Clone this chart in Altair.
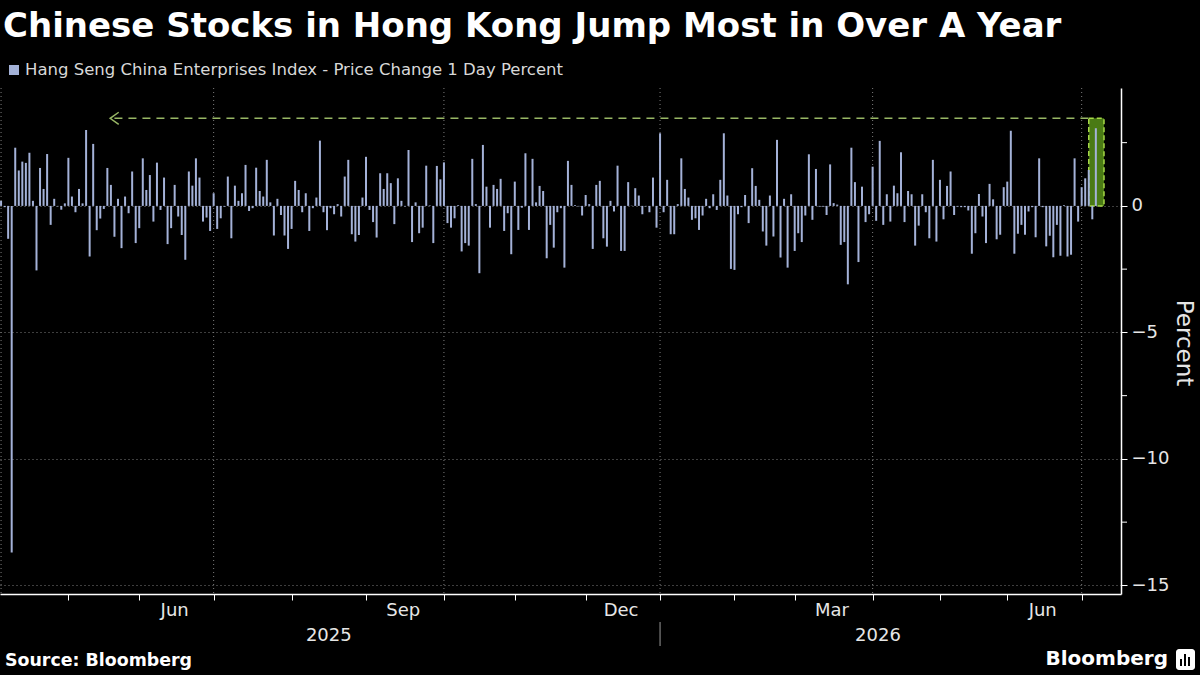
import altair as alt
import pandas as pd

TITLE = "Chinese Stocks in Hong Kong Jump Most in Over A Year"
SERIES = "Hang Seng China Enterprises Index - Price Change 1 Day Percent"
SOURCE = "Source: Bloomberg"
BRAND = "Bloomberg"
Y_LABEL = "Percent"

START = "2025-04-01"
HOLIDAYS = [
    "2025-04-04", "2025-04-18", "2025-04-21", "2025-05-01", "2025-05-05",
    "2025-07-01", "2025-10-01", "2025-10-07", "2025-10-29", "2025-12-25",
    "2025-12-26", "2026-01-01", "2026-02-17", "2026-02-18", "2026-02-19",
    "2026-04-03", "2026-04-06", "2026-04-07", "2026-05-01", "2026-05-25",
    "2026-06-19", "2026-07-01",
]

pct_change = [
    0.2, -0.05, -1.3, -13.7, 2.3, 1.4, 1.75, 1.7, 2.1, 0.2, -2.55, 1.5, 0.67, 2.05, -0.75, 0.28, -0.02, -0.15,
    0.1, 1.9, 0.37, -0.25, 0.67, 0.1, 3.0, -2.0, 2.45, -0.96, -0.5, -0.12, 1.5, 0.83, -1.22, 0.28, -1.67, 0.37,
    -0.29, 1.36, -1.47, -0.88, 1.88, 0.63, 1.22, -0.62, 1.71, -0.16, 1.12, -1.51, -0.88, 0.83, -0.42, -1.15,
    -2.13, 1.36,
    0.8, 1.88, 1.12, -0.62, -0.46, -0.99, 0.5, -0.91, -0.49, -0.03, 1.16, -1.28, 0.8, 0.2, 0.5, 1.62, -0.2,
    -0.09, 1.51, 0.59, 0.37, 1.82, 0.14, -1.17, 0.28, -0.36, -1.17, -1.7, -0.91, 0.99, 0.63, -0.25, 0.5, -0.99,
    -0.09, 0.33, 2.58, -0.25, -0.96, -0.09, -0.33, 0.07, -0.42, 1.16, 1.82, -1.12, -1.41, -1.15, 0.33, 1.94,
    -0.16, -0.64,
    -1.25, 1.29, 0.67, 1.29, 0.9, -0.72, 1.09, 0.2, -0.02, 2.21, -1.43, 0.14, -1.08, -0.86, 1.59, 0.02, -1.47,
    1.58, 1.05, 1.72, -0.68, -0.86, -0.49, 0.03, -1.8, -1.47, -1.57, 1.86, 0.07, -2.66, 2.41, 0.76, -0.86, 0.83,
    0.67, 1.07, -0.99, -0.29, -1.91, 0.96, -0.95, -0.07, 2.08, -0.95, 1.86, 0.14, 0.79, 0.59, -2.07, -0.75,
    -1.65, -0.25,
    -0.09, -2.44, 1.78, 0.83, 0.03, -0.02, -0.38, 0.43, 0.07, -1.7, 0.83, 0.99, -1.28, -1.61, 0.2, -0.22, 1.59,
    -1.78, -1.78, 0.94, 0.01, 0.7, 0.41, -0.33, -0.02, -0.25, 1.12, -0.86, 2.87, -0.25, 1.03, -1.12, -1.12,
    0.07, 1.88, 0.67, 0.33, -0.55, -0.49, -0.95, -0.38, 0.28, -0.09, 0.46, -0.16, 1.03, 2.87, 0.41, -2.49,
    -2.53, -0.33, -0.05, 0.43,
    -0.68, 1.49, 0.79, 0.24, -1.01, -1.57, 0.41, -1.21, 2.61, -2.04, 0.28, -2.44, 0.46, -1.78, -1.08, -1.43,
    -0.38, 2.04, -0.55, 1.46, -0.03, -0.03, -0.36, 1.64, 0.11, 0.05, -1.54, -1.43, -3.1, 2.3, 0.94, -2.22, 0.76,
    -0.64, -0.33, 1.55, -0.59, 2.57, -0.75, 0.46, -0.62, 0.8, 0.5, 2.12, -0.64, 0.59, 0.46, -1.57, -0.78, 0.46,
    -0.25, -1.28,
    1.82, -1.41, 1.03, -0.53, 0.79, 1.36, -0.36, -0.03, -0.05, -0.05, -0.18, -1.89, -1.08, 0.47, -0.42, -1.47,
    0.87, 0.26, -1.32, -1.14, 0.74, 0.96, 2.97, -1.89, -1.1, -0.75, -1.14, -0.22, -0.05, -1.24, 1.88, -0.05,
    -1.6, -1.18, -2.03, -0.75, -1.97, 0.03, -2.0, -1.93, 1.88, -0.62, 0.74, 1.09, 1.42, -0.53, 3.07,
]

Y_TICKS = [0, -5, -10, -15]
Y_MINOR = [2.5, -2.5, -7.5, -12.5]
HIGHLIGHT_LEVEL = 3.46
ARROW_FROM = 32

# ---- styling ----
FONT = "DejaVu Sans"
BG = "#000000"
BAR = "#a4b2d8"
GREEN_FILL = "#4a7a14"
GREEN_EDGE = "#a6d848"
DASH = "#98b765"
GRID = "#7d7d7d"
TXT = "#e6e6e6"
W, H = 1121, 506

n = len(pct_change)
days = pd.bdate_range(START, periods=n, freq="C", holidays=HOLIDAYS)
df = pd.DataFrame({"i": range(n), "date": days, "v": pct_change})
df["z"] = 0.0
df["yr"] = df["date"].dt.year
df["mo"] = df["date"].dt.month

firsts = df.groupby(["yr", "mo"], sort=True)["i"].min().reset_index()
month_ticks = firsts["i"].tolist()[1:]
quarters = firsts[firsts["mo"].isin([1, 4, 7, 10])].rename(columns={"i": "q"})
mids = df.groupby(["yr", "mo"])["i"].mean().reset_index()
mlab = mids[mids["mo"].isin([3, 6, 9, 12])].copy()
mlab["label"] = mlab["mo"].map(lambda m: pd.Timestamp(2000, m, 1).strftime("%b"))
ylab = df.groupby("yr")["i"].agg(["min", "max"]).reset_index()
ylab["mid"] = (ylab["min"] + ylab["max"]) / 2
ylab["label"] = ylab["yr"].astype(str)
ysep = ylab[["min"]].iloc[1:].rename(columns={"min": "s"})

ann = pd.DataFrame({
    "x0": [n - 3.0], "x1": [n + 1.3], "lvl": [HIGHLIGHT_LEVEL], "z": [0.0],
    "ax": [ARROW_FROM],
})

XDOM = [-0.3, n + 6.1]
YDOM = [-15.34, 4.66]
xs = alt.Scale(domain=XDOM, nice=False, zero=False)
ys = alt.Scale(domain=YDOM, nice=False, zero=False)

XAX = alt.Axis(values=month_ticks, labels=False, tickSize=6, tickColor="white",
               domainColor="white", domainWidth=1.5, tickWidth=1, grid=False, title=None)
YAX = alt.Axis(orient="right", values=Y_TICKS, tickSize=6, tickColor="white",
               domainColor="white", domainWidth=1.5, labelColor=TXT, labelFont=FONT,
               labelFontSize=18, labelPadding=4, grid=True, gridColor=GRID,
               gridDash=[1, 3], gridWidth=1, title=None)


def X(field):
    return alt.X(field, scale=xs, axis=XAX)


def Y(field):
    return alt.Y(field, scale=ys, axis=YAX)


vgrid = alt.Chart(quarters).mark_rule(color=GRID, strokeDash=[1, 3], strokeWidth=1).encode(
    x=X("q:Q"), y=alt.value(0), y2=alt.value(H))

box = alt.Chart(ann).mark_rect(fill=GREEN_FILL, stroke=GREEN_EDGE, strokeDash=[5, 3], strokeWidth=1.5).encode(
    x=X("x0:Q"), x2="x1:Q", y=Y("lvl:Q"), y2="z:Q")

dline = alt.Chart(ann).mark_rule(color=DASH, strokeDash=[8, 6], strokeWidth=1.5).encode(
    x=X("ax:Q"), x2="x0:Q", y=Y("lvl:Q"))

arrow = alt.Chart(ann).mark_point(shape="M0.7,-1L-0.7,0L0.7,1", filled=False, color=DASH,
                                  strokeWidth=1.5, size=150, opacity=1).encode(
    x=X("ax:Q"), y=Y("lvl:Q"))

bars = alt.Chart(df).mark_rule(color=BAR, strokeWidth=2).encode(
    x=X("i:Q"), y=Y("v:Q"), y2="z:Q")

minor = alt.Chart(pd.DataFrame({"t": Y_MINOR})).mark_rule(color="white", strokeWidth=1).encode(
    y=Y("t:Q"), x=alt.value(W), x2=alt.value(W + 6))

mtext = alt.Chart(mlab).mark_text(font=FONT, fontSize=18, color=TXT, baseline="middle").encode(
    x=X("i:Q"), y=alt.value(H + 17), text="label:N")

ytext = alt.Chart(ylab).mark_text(font=FONT, fontSize=18, color=TXT, baseline="middle").encode(
    x=X("mid:Q"), y=alt.value(H + 42), text="label:N")

ysep_rule = alt.Chart(ysep).mark_rule(color="#9a9a9a", strokeWidth=1).encode(
    x=X("s:Q"), y=alt.value(H + 28), y2=alt.value(H + 52))


def label(txt, x, y, size, weight="normal", color=TXT, align="left", angle=0):
    return alt.Chart(pd.DataFrame({"t": [txt]})).mark_text(
        font=FONT, fontSize=size, fontWeight=weight, color=color, align=align,
        baseline="middle", angle=angle).encode(text="t:N", x=alt.value(x), y=alt.value(y))


def box_px(x0, x1, y0, y1, color, radius=0):
    return alt.Chart(pd.DataFrame({"a": [0]})).mark_rect(color=color, cornerRadius=radius).encode(
        x=alt.value(x0), x2=alt.value(x1), y=alt.value(y0), y2=alt.value(y1))


title = label(TITLE, 3, -61, 34, "bold", "white")
legend_txt = label(SERIES, 25, -18, 16.5, color="#d8d8d8")
swatch = alt.Chart(pd.DataFrame({"a": [0]})).mark_square(color=BAR, size=100, opacity=1).encode(
    x=alt.value(14), y=alt.value(-18))
source = label(SOURCE, 5, 573, 17.4, "bold", "white")
brand = label(BRAND, 1168, 571, 20, "bold", "white", align="right")
icon = box_px(1176, 1195, 561, 582, "white", 3)
icon_b1 = box_px(1180, 1182, 571, 578, "black")
icon_b2 = box_px(1184, 1186, 566, 578, "black")
icon_b3 = box_px(1188, 1190, 569, 578, "black")
ytitle = label(Y_LABEL, 1184, 255, 23, angle=90, align="center")

chart = alt.layer(
    vgrid, box, dline, arrow, bars, minor, mtext, ytext, ysep_rule,
    title, legend_txt, swatch, source, brand, icon, icon_b1, icon_b2, icon_b3, ytitle,
).properties(
    width=W, height=H,
    padding={"left": 0, "top": 88, "right": 79, "bottom": 81},
    autosize=alt.AutoSizeParams(type="none"),
).configure(background=BG).configure_view(strokeWidth=0)

chart.save("out.html", embed_options={"renderer": "svg", "actions": False})
